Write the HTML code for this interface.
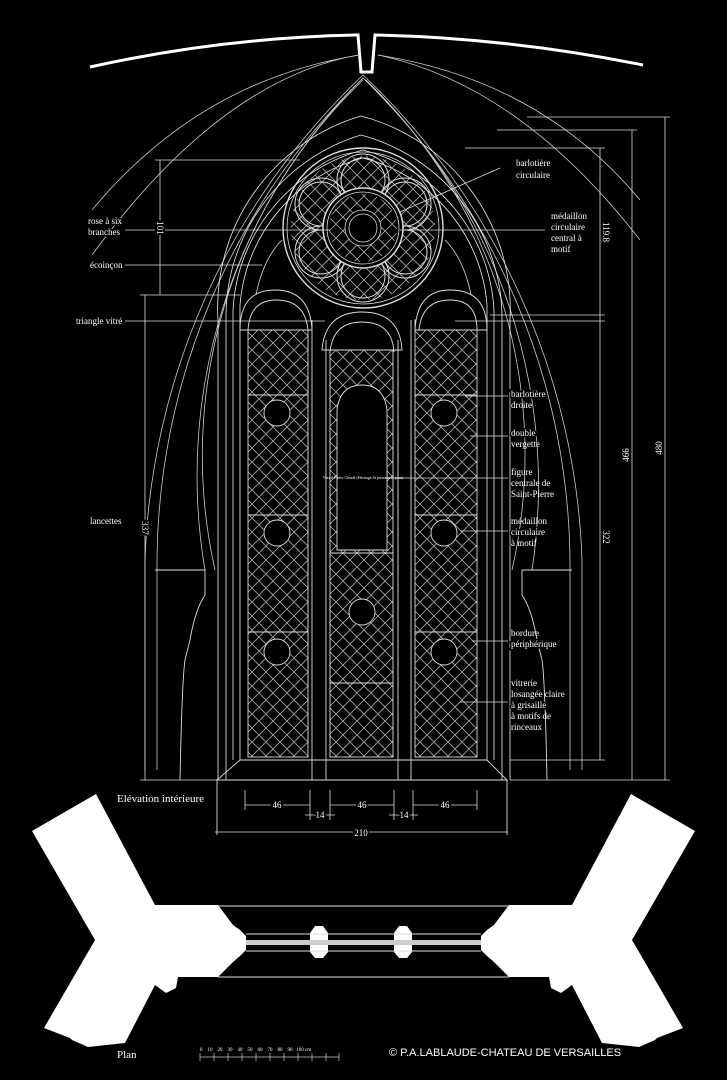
<!DOCTYPE html>
<html><head><meta charset="utf-8"><style>
html,body{margin:0;padding:0;background:#000;}
svg{display:block}
text{font-family:"Liberation Serif",serif;fill:#fff;}
</style></head><body>
<svg width="727" height="1080" viewBox="0 0 727 1080" xmlns="http://www.w3.org/2000/svg">
<defs>
<pattern id="lat" width="14" height="14" patternUnits="userSpaceOnUse">
<path d="M0 0L14 14M14 0L0 14" stroke="#aaa" stroke-width="0.8"/>
</pattern>
<clipPath id="rc"><circle cx="363" cy="228" r="72"/></clipPath>
</defs>
<rect width="727" height="1080" fill="#000"/>

<path d="M90 67 Q220 38 355 35 L358 35 L361 72 L372 72 L375 35 Q510 38 643 65" fill="none" stroke="#fff" stroke-width="3"/>

<g fill="none" stroke="#ccc" stroke-width="0.8">
<path d="M92 210 Q200 80 360 55"/>
<path d="M92 255 Q220 80 358 55"/>
<path d="M640 200 Q540 80 378 55"/>
<path d="M640 240 Q520 85 378 55"/>
<path d="M145 770 L145 560 A700 700 0 0 1 363 75 A700 700 0 0 1 582 560 L582 770"/>
<path d="M157 770 L157 570 A680 680 0 0 1 363 78 A680 680 0 0 1 570 570 L570 770"/>
<path d="M205 570 A560 560 0 0 1 363 78 A560 560 0 0 1 532 570"/>
<path d="M215 570 A520 520 0 0 1 363 80"/>
<path d="M512 570 A520 520 0 0 0 366 80"/>
<path d="M218 780 L218 320 A200 200 0 0 1 361 116 A200 200 0 0 1 510 320 L510 780" stroke="#eee"/>
<path d="M226 780 L226 320 A190 190 0 0 1 361 135 A190 190 0 0 1 502 320 L502 780" stroke="#eee"/>
<path d="M233 760 L233 310 A175 175 0 0 1 363 150 A175 175 0 0 1 494 310 L494 760" stroke="#eee"/>
<path d="M240 760 L240 305 A165 165 0 0 1 363 158 A165 165 0 0 1 487 305 L487 760" stroke="#eee"/>
</g>

<g fill="none" stroke="#ddd" stroke-width="0.8">
<g clip-path="url(#rc)"><rect x="290" y="155" width="146" height="146" fill="url(#lat)" stroke="none"/></g>
<circle cx="363" cy="228" r="80" stroke-width="1.4"/>
<circle cx="363" cy="228" r="76"/>
<g stroke-width="1">
<circle cx="363" cy="180" r="26"/><circle cx="363" cy="180" r="22"/>
<circle cx="405" cy="204" r="26"/><circle cx="405" cy="204" r="22"/>
<circle cx="405" cy="252" r="26"/><circle cx="405" cy="252" r="22"/>
<circle cx="363" cy="276" r="26"/><circle cx="363" cy="276" r="22"/>
<circle cx="321" cy="252" r="26"/><circle cx="321" cy="252" r="22"/>
<circle cx="321" cy="204" r="26"/><circle cx="321" cy="204" r="22"/>
</g>
<circle cx="363" cy="228" r="40" fill="#000" stroke-width="1.5"/>
<circle cx="363" cy="228" r="36"/>
<g clip-path="url(#rc)"><circle cx="363" cy="228" r="34" fill="url(#lat)" stroke="none"/></g>
<circle cx="363" cy="228" r="18" fill="#000"/>
<circle cx="363" cy="228" r="14"/>
<path d="M255 300 Q262 260 282 240" />
<path d="M472 300 Q465 260 445 240" />
</g>

<g stroke="#ddd" stroke-width="0.9">
<rect x="248" y="320" width="60" height="437" fill="url(#lat)"/>
<rect x="330" y="345" width="63" height="412" fill="url(#lat)"/>
<rect x="415" y="320" width="62" height="437" fill="url(#lat)"/>
<path d="M240 330 Q240 290 275 290 Q310 290 312 330 Z" fill="#000"/>
<path d="M248 330 Q250 300 276 300 Q305 300 308 330" fill="none"/>
<path d="M415 330 Q417 290 450 290 Q487 290 487 330 Z" fill="#000"/>
<path d="M419 330 Q422 300 450 300 Q477 300 477 330" fill="none"/>
<path d="M322 350 Q325 312 362 312 Q400 312 402 350 Z" fill="#000"/>
<path d="M330 352 Q333 322 362 322 Q392 322 394 352" fill="none"/>
<g fill="none">
<line x1="248" y1="395" x2="308" y2="395"/><line x1="248" y1="515" x2="308" y2="515"/><line x1="248" y1="632" x2="308" y2="632"/>
<line x1="415" y1="395" x2="477" y2="395"/><line x1="415" y1="515" x2="477" y2="515"/><line x1="415" y1="632" x2="477" y2="632"/>
<line x1="330" y1="553" x2="393" y2="553"/><line x1="330" y1="683" x2="393" y2="683"/>
<line x1="312" y1="320" x2="312" y2="780"/><line x1="326" y1="340" x2="326" y2="780"/>
<line x1="398" y1="340" x2="398" y2="780"/><line x1="411" y1="320" x2="411" y2="780"/>
</g>
<g fill="#000">
<circle cx="277" cy="413" r="13"/><circle cx="277" cy="533" r="13"/><circle cx="277" cy="652" r="13"/>
<circle cx="444" cy="413" r="13"/><circle cx="444" cy="533" r="13"/><circle cx="444" cy="652" r="13"/>
<circle cx="362" cy="612" r="13"/>
<path d="M337 550 L337 410 Q340 385 362 385 Q384 385 387 410 L387 550 Z"/>
</g>
</g>
<text x="363" y="479" font-size="4" text-anchor="middle" fill="#aaa">Vitrail Pierre Chazal (Heritage St pierre et le plan)</text>

<g fill="none" stroke="#ddd" stroke-width="0.9">
<path d="M217 780 L240 760 L487 760 L507 780 Z"/>
<line x1="217" y1="780" x2="217" y2="835"/><line x1="507" y1="780" x2="507" y2="835"/>
<path d="M155 570 L205 570 L205 595 Q195 610 190 640 L185 660 Q182 680 180 780"/>
<path d="M572 570 L522 570 L522 595 Q532 610 537 640 L542 660 Q545 680 547 780"/>
</g>

<g stroke="#ddd" stroke-width="0.8" fill="none">
<line x1="155" y1="160" x2="300" y2="160"/><line x1="160" y1="160" x2="160" y2="295"/>
<line x1="140" y1="295" x2="240" y2="295"/><line x1="145" y1="295" x2="145" y2="780"/>
<line x1="140" y1="780" x2="217" y2="780"/>
<line x1="465" y1="148" x2="605" y2="148"/><line x1="600" y1="148" x2="600" y2="760"/>
<line x1="490" y1="315" x2="605" y2="315"/><line x1="510" y1="760" x2="605" y2="760"/>
<line x1="497" y1="130" x2="637" y2="130"/><line x1="632" y1="130" x2="632" y2="780"/>
<line x1="527" y1="117" x2="670" y2="117"/><line x1="665" y1="117" x2="665" y2="780"/>
<line x1="510" y1="780" x2="670" y2="780"/>
<line x1="245" y1="790" x2="245" y2="810"/><line x1="310" y1="790" x2="310" y2="820"/>
<line x1="330" y1="790" x2="330" y2="820"/><line x1="394" y1="790" x2="394" y2="820"/>
<line x1="413" y1="790" x2="413" y2="820"/><line x1="477" y1="790" x2="477" y2="810"/>
<line x1="245" y1="805" x2="310" y2="805"/><line x1="330" y1="805" x2="394" y2="805"/><line x1="413" y1="805" x2="477" y2="805"/>
<line x1="305" y1="815" x2="335" y2="815"/><line x1="389" y1="815" x2="418" y2="815"/>
<line x1="215" y1="832" x2="508" y2="832"/>
<line x1="125" y1="230" x2="330" y2="230"/><line x1="400" y1="230" x2="545" y2="230"/>
<line x1="125" y1="265" x2="262" y2="265"/><line x1="125" y1="321" x2="325" y2="321"/>
<line x1="400" y1="212" x2="500" y2="168"/>
<line x1="455" y1="321" x2="605" y2="321"/>
<line x1="465" y1="396" x2="508" y2="396"/><line x1="470" y1="436" x2="508" y2="436"/>
<line x1="385" y1="478" x2="508" y2="478"/><line x1="460" y1="531" x2="508" y2="531"/>
<line x1="472" y1="641" x2="508" y2="641"/><line x1="460" y1="702" x2="508" y2="702"/>
</g>
<g font-size="9">
<text x="88" y="224" stroke="#000" stroke-width="3" paint-order="stroke">rose à six</text><text x="88" y="235" stroke="#000" stroke-width="3" paint-order="stroke">branches</text>
<text x="90" y="268" stroke="#000" stroke-width="3" paint-order="stroke">écoinçon</text><text x="76" y="324" stroke="#000" stroke-width="3" paint-order="stroke">triangle vitré</text>
<text x="90" y="524">lancettes</text>
<text x="516" y="166">barlotière</text><text x="516" y="178">circulaire</text>
<text x="551" y="219">médaillon</text><text x="551" y="230" stroke="#000" stroke-width="3" paint-order="stroke">circulaire</text><text x="551" y="241">central à</text><text x="551" y="252">motif</text>
<text x="511" y="397" stroke="#000" stroke-width="3" paint-order="stroke">barlotière</text><text x="511" y="408">droite</text>
<text x="511" y="436" stroke="#000" stroke-width="3" paint-order="stroke">double</text><text x="511" y="447">vergette</text>
<text x="511" y="475">figure</text><text x="511" y="486">centrale de</text><text x="511" y="497">Saint-Pierre</text>
<text x="511" y="524">médaillon</text><text x="511" y="535" stroke="#000" stroke-width="3" paint-order="stroke">circulaire</text><text x="511" y="546">à motif</text>
<text x="511" y="636">bordure</text><text x="511" y="647" stroke="#000" stroke-width="3" paint-order="stroke">périphérique</text>
<text x="511" y="686">vitrerie</text><text x="511" y="697">losangée claire</text><text x="511" y="708" stroke="#000" stroke-width="3" paint-order="stroke">à grisaille</text><text x="511" y="719">à motifs de</text><text x="511" y="730">rinceaux</text>
<text x="277" y="808" text-anchor="middle" stroke="#000" stroke-width="4" paint-order="stroke">46</text>
<text x="362" y="808" text-anchor="middle" stroke="#000" stroke-width="4" paint-order="stroke">46</text>
<text x="445" y="808" text-anchor="middle" stroke="#000" stroke-width="4" paint-order="stroke">46</text>
<text x="320" y="818" text-anchor="middle" stroke="#000" stroke-width="3" paint-order="stroke">14</text>
<text x="404" y="818" text-anchor="middle" stroke="#000" stroke-width="3" paint-order="stroke">14</text>
<text x="361" y="836" text-anchor="middle" stroke="#000" stroke-width="4" paint-order="stroke">210</text>
<text transform="translate(157,228) rotate(90)" text-anchor="middle" stroke="#000" stroke-width="4" paint-order="stroke">101</text>
<text transform="translate(142,528) rotate(90)" text-anchor="middle" stroke="#000" stroke-width="4" paint-order="stroke">337</text>
<text transform="translate(603,232) rotate(90)" text-anchor="middle" stroke="#000" stroke-width="4" paint-order="stroke">119.8</text>
<text transform="translate(603,537) rotate(90)" text-anchor="middle" stroke="#000" stroke-width="4" paint-order="stroke">322</text>
<text transform="translate(629,455) rotate(-90)" text-anchor="middle" stroke="#000" stroke-width="4" paint-order="stroke">466</text>
<text transform="translate(662,448) rotate(-90)" text-anchor="middle" stroke="#000" stroke-width="4" paint-order="stroke">480</text>
</g>
<text x="117" y="802" font-size="11">Elévation intérieure</text>

<g fill="#fff">
<polygon points="32,831 96,794 155,905 218,905 233,925 240,930 246,936 246,950 240,956 233,962 218,977 178,977 176,988 166,993 155,985 125,1043 88,1047 72,1040 70,1038 44,1028 95,940"/>
<polygon points="695,831 631,794 572,905 509,905 494,925 487,930 481,936 481,950 487,956 494,962 509,977 549,977 551,988 561,993 572,985 602,1043 639,1047 655,1040 657,1038 683,1028 632,940"/>
<path d="M310 933 L315 926 L323 926 L328 933 L328 952 L323 958 L315 958 L310 952 Z"/>
<path d="M394 933 L399 926 L407 926 L412 933 L412 952 L407 958 L399 958 L394 952 Z"/>
</g>
<g stroke="#ddd" fill="none" stroke-width="0.9">
<line x1="218" y1="906" x2="509" y2="906"/><line x1="218" y1="977" x2="509" y2="977"/>
<line x1="246" y1="934" x2="481" y2="934"/><line x1="246" y1="951" x2="481" y2="951"/>
</g>
<rect x="246" y="940" width="235" height="5" fill="#ccc"/>
<text x="117" y="1058" font-size="11">Plan</text>
<g stroke="#ccc" stroke-width="0.7">
<line x1="200" y1="1057" x2="339" y2="1057"/>
<line x1="200" y1="1053" x2="200" y2="1061"/><line x1="214" y1="1053" x2="214" y2="1061"/><line x1="228" y1="1053" x2="228" y2="1061"/><line x1="242" y1="1053" x2="242" y2="1061"/><line x1="256" y1="1053" x2="256" y2="1061"/><line x1="270" y1="1053" x2="270" y2="1061"/><line x1="284" y1="1053" x2="284" y2="1061"/><line x1="298" y1="1053" x2="298" y2="1061"/><line x1="312" y1="1053" x2="312" y2="1061"/><line x1="326" y1="1053" x2="326" y2="1061"/><line x1="339" y1="1053" x2="339" y2="1061"/>
</g>
<text x="200" y="1051" font-size="5">0 &#160;&#160; 10 &#160;&#160; 20 &#160;&#160; 30 &#160;&#160; 40 &#160;&#160; 50 &#160;&#160; 60 &#160;&#160; 70 &#160;&#160; 80 &#160;&#160; 90 &#160; 100 cm</text>
<text x="389" y="1056" font-size="11" style="font-family:'Liberation Sans',sans-serif">© P.A.LABLAUDE-CHATEAU DE VERSAILLES</text>
</svg>
</body></html>
